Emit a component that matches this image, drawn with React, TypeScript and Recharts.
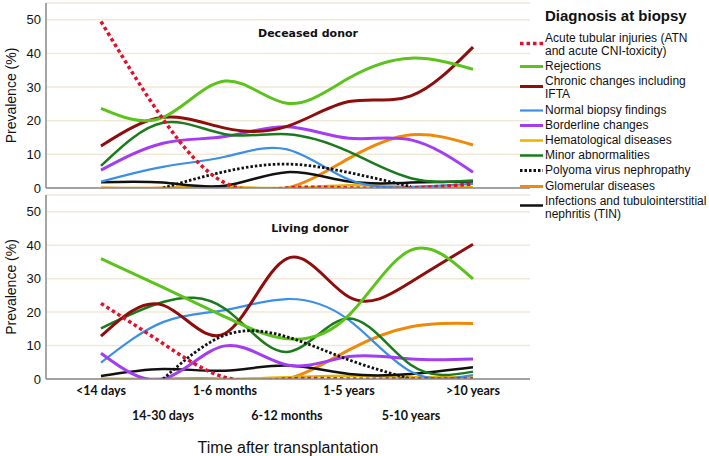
import { LineChart, Line, XAxis, YAxis, CartesianGrid, Label } from "recharts";

const categories = ["<14 days", "14-30 days", "1-6 months", "6-12 months", "1-5 years", "5-10 years", ">10 years"];
const yTicks = [0, 10, 20, 30, 40, 50];

// deceased donor (%)
const decAtn = [49.5, 20.5, 1.5, 0, 0, 0, 1.2];
const decRej = [23.7, 21, 31.8, 25.2, 32.7, 38.6, 35.3];
const decChronic = [12.5, 21, 17.8, 18.3, 25.7, 27.4, 41.9];
const decNormal = [1.9, 6.3, 9.3, 11.5, 2.5, 0.3, 1.2];
const decBorderline = [5.3, 13.3, 15.3, 18.2, 14.8, 14.3, 4.7];
const decHemat = [0, 0, 0.3, 0, 0.8, 0.3, 0.2];
const decMinor = [6.6, 19.4, 16, 16, 10.8, 2.9, 2.2];
const decPolyoma = [null, 0, 4.9, 7.1, 4.6, 0.4, null];
const decGlom = [0, 0, 0, 0, 8.8, 15.8, 12.8];
const decInfect = [1.7, 1.6, 0.7, 4.7, 1.9, 1.6, 1.9];

// living donor (%)
const livAtn = [22.6, 10.6, 0.5, 0, 0, 0, 0];
const livRej = [36, 27.4, 18.6, 12, 19.1, 38.5, 29.9];
const livChronic = [12.8, 22.1, 13.6, 36, 24.5, 29, 40.3];
const livNormal = [4.9, 17, 20.6, 23.9, 17.6, 2.2, 1.2];
const livBorderline = [7.7, 0, 9.9, 4.2, 6.7, 6, 6];
const livHemat = [0, 0, 0, 0.5, 1, 0.6, 0.5];
const livMinor = [15.1, 23, 21, 8.1, 18.1, 4.2, 2.2];
const livPolyoma = [null, 0, 13.1, 12.6, 5.7, 0, null];
const livGlom = [0, 0, 0, 0, 8.7, 15.6, 16.6];
const livInfect = [0.9, 3, 2.5, 4, 1.5, 1.5, 3.5];

const series = [
  { key: "atn", lines: ["Acute tubular injuries (ATN", "and acute CNI-toxicity)"], color: "#e0112b", width: 3.5, dash: "3.5 3" },
  { key: "rej", lines: ["Rejections"], color: "#5cc21c", width: 3, dash: undefined },
  { key: "chronic", lines: ["Chronic changes including", "IFTA"], color: "#8e0d0d", width: 3, dash: undefined },
  { key: "normal", lines: ["Normal biopsy findings"], color: "#3b8fe6", width: 2.2, dash: undefined },
  { key: "borderline", lines: ["Borderline changes"], color: "#a33df2", width: 3, dash: undefined },
  { key: "hemat", lines: ["Hematological diseases"], color: "#e8b400", width: 2.5, dash: undefined },
  { key: "minor", lines: ["Minor abnormalities"], color: "#1b7a1b", width: 2.5, dash: undefined },
  { key: "polyoma", lines: ["Polyoma virus nephropathy"], color: "#111111", width: 2.8, dash: "2.5 2" },
  { key: "glom", lines: ["Glomerular diseases"], color: "#f0890a", width: 3, dash: undefined },
  { key: "infect", lines: ["Infections and tubulointerstitial", "nephritis (TIN)"], color: "#111111", width: 2.5, dash: undefined },
];

const drawOrder = ["glom", "hemat", "infect", "normal", "borderline", "minor", "chronic", "rej", "polyoma", "atn"];

const deceasedData = categories.map((cat, i) => ({
  cat,
  atn: decAtn[i], rej: decRej[i], chronic: decChronic[i], normal: decNormal[i], borderline: decBorderline[i],
  hemat: decHemat[i], minor: decMinor[i], polyoma: decPolyoma[i], glom: decGlom[i], infect: decInfect[i],
}));

const livingData = categories.map((cat, i) => ({
  cat,
  atn: livAtn[i], rej: livRej[i], chronic: livChronic[i], normal: livNormal[i], borderline: livBorderline[i],
  hemat: livHemat[i], minor: livMinor[i], polyoma: livPolyoma[i], glom: livGlom[i], infect: livInfect[i],
}));

const FONT = "'Liberation Sans', Arial, sans-serif";

const YLabel = (props: any) => {
  const vb = props.viewBox;
  const cx = 16;
  const cy = vb.y + vb.height / 2;
  return (
    <text x={cx} y={cy} transform={`rotate(-90 ${cx} ${cy})`} textAnchor="middle" fontSize={14} fill="#111" fontFamily={FONT}>
      Prevalence (%)
    </text>
  );
};

const BottomTick = (props: any) => {
  const { x, y, payload, index } = props;
  return (
    <text x={x} y={y + (index % 2 ? 41 : 16)} textAnchor="middle" fontSize={12.5} fontWeight="bold" fill="#111" fontFamily="Lato, 'Liberation Sans', sans-serif">
      {payload.value}
    </text>
  );
};

function Panel({ data, height, top, bottomAxis }: { data: any[]; height: number; top: number; bottomAxis: boolean }) {
  return (
    <div style={{ position: "absolute", left: 0, top }}>
      <LineChart width={709} height={height} data={data} margin={{ top: bottomAxis ? 5 : 3, right: 179, bottom: 0, left: 0 }}>
        <CartesianGrid vertical={false} stroke="#f1e9d6" strokeWidth={1.5} />
        <XAxis
          dataKey="cat"
          padding={{ left: 55, right: 57 }}
          height={bottomAxis ? 77 : 12}
          tickLine={false}
          tickSize={0}
          tickMargin={0}
          axisLine={{ stroke: "#888", strokeWidth: 1.5 }}
          tick={bottomAxis ? <BottomTick /> : false}
          interval={0}
        />
        <YAxis
          width={46}
          domain={[0, 55]}
          ticks={yTicks}
          allowDataOverflow
          tickLine={false}
          tickSize={0}
          tickMargin={5}
          axisLine={{ stroke: "#888", strokeWidth: 1.5 }}
          tick={{ fontSize: 13, fill: "#111", fontFamily: FONT }}
        >
          <Label content={<YLabel />} />
        </YAxis>
        {drawOrder.map((k) => {
          const s = series.find((d) => d.key === k)!;
          return (
            <Line
              key={k}
              type="natural"
              dataKey={k}
              stroke={s.color}
              strokeWidth={s.width}
              strokeDasharray={s.dash}
              dot={false}
              activeDot={false}
              isAnimationActive={false}
            />
          );
        })}
      </LineChart>
    </div>
  );
}

const panelTitle = {
  position: "absolute" as const,
  width: 200,
  textAlign: "center" as const,
  fontFamily: "'DejaVu Sans', sans-serif",
  fontWeight: "bold" as const,
  fontSize: 11,
  color: "#111",
};

export default function App() {
  return (
    <div style={{ position: "absolute", left: 0, top: 0, width: 709, height: 456, background: "#fff", fontFamily: FONT, overflow: "hidden" }}>
      <Panel data={deceasedData} height={200} top={0} bottomAxis={false} />
      <Panel data={livingData} height={266} top={190} bottomAxis={true} />
      <div style={{ ...panelTitle, left: 208, top: 27 }}>Deceased donor</div>
      <div style={{ ...panelTitle, left: 210, top: 222 }}>Living donor</div>
      <div style={{ position: "absolute", left: 46, width: 484, top: 439, textAlign: "center", fontSize: 16, lineHeight: "18px", color: "#111" }}>
        Time after transplantation
      </div>
      <div style={{ position: "absolute", left: 545, top: 7, fontSize: 15, fontWeight: "bold", lineHeight: "18px", color: "#111" }}>
        Diagnosis at biopsy
      </div>
      <div style={{ position: "absolute", left: 519, top: 32, display: "flex", flexDirection: "column", gap: 2.2 }}>
        {series.map((s) => (
          <div key={s.key} style={{ display: "flex", alignItems: "flex-start" }}>
            <svg width={25} height={13} style={{ marginTop: s.lines.length > 1 ? 4.5 : 0, flex: "none" }}>
              <line x1={1} y1={6.5} x2={24} y2={6.5} stroke={s.color} strokeWidth={s.width} strokeDasharray={s.dash} />
            </svg>
            <div style={{ fontSize: 12, lineHeight: "13px", color: "#111", marginLeft: 1, whiteSpace: "nowrap" }}>
              {s.lines.map((l, i) => (
                <div key={i}>{l}</div>
              ))}
            </div>
          </div>
        ))}
      </div>
    </div>
  );
}
